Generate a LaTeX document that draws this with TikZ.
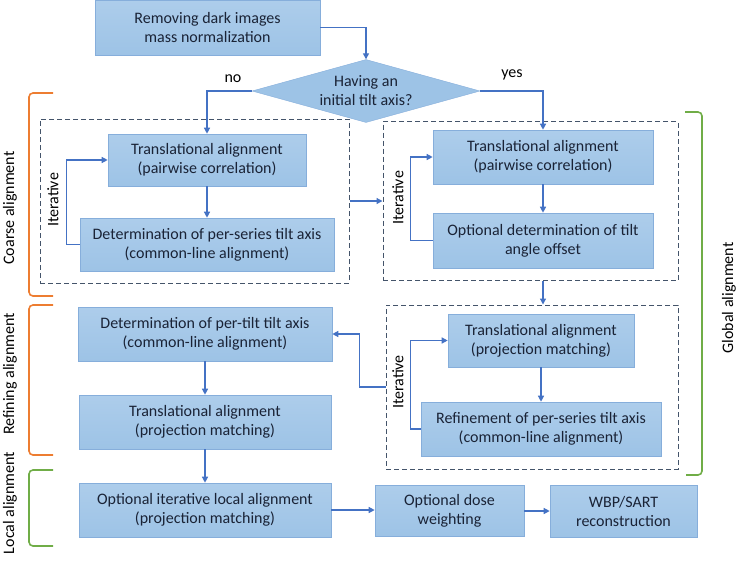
\documentclass[tikz,border=0pt]{standalone}
\usepackage{fontspec}
\setmainfont{Carlito}
\usepackage{tikz}
\usetikzlibrary{shapes.geometric, arrows.meta}
\usetikzlibrary{calc,positioning}
\definecolor{boxfill}{HTML}{9DC3E6}
\definecolor{boxtop}{HTML}{ADCDEB}
\definecolor{boxline}{HTML}{86AEDB}
\definecolor{arrblue}{HTML}{4472C4}
\definecolor{framegray}{HTML}{44546A}
\definecolor{txtdark}{HTML}{1A2336}
\definecolor{braceorange}{HTML}{ED7D31}
\definecolor{bracegreen}{HTML}{70AD47}

\begin{document}
\begin{tikzpicture}[x=1pt,y=1pt,yscale=-1,xscale=1]
  \tikzstyle{arrow} = [line width=1.3pt,arrblue,-{Triangle[length=6pt,width=6pt]}]
  \tikzstyle{stage} = [draw=boxline,line width=0.6pt,top color=boxtop,bottom color=boxfill,text=txtdark,align=center,inner sep=2pt,font=\fontsize{16}{19}\selectfont]
  \tikzstyle{frame} = [draw=framegray,dashed,line width=1pt,dash pattern=on 5pt off 3pt]
  \tikzstyle{brace} = [line width=1.6pt,rounded corners=4pt]
  \tikzstyle{side} = [rotate=90,text=black,font=\fontsize{16}{19}\selectfont]
  \useasboundingbox (0,0) rectangle (738,560);
  %Draw the dashed frames
  \node[frame,minimum width=309,minimum height=164] (fL) at (194.5,201) {};
  \node[frame,minimum width=295,minimum height=159] (fR) at (530.5,201) {};
  \node[frame,minimum width=292,minimum height=164] (fB) at (532,387) {};
  %Draw the steps
  \node[stage,minimum width=225,minimum height=55] (rem) at (207.5,27.5) {Removing dark images\\mass normalization};
  \node[diamond,draw=boxline,fill=boxfill,minimum width=228,minimum height=63,inner sep=0pt] (dia) at (366,91) {};
  \node[text=txtdark,align=center,font=\fontsize{16}{19}\selectfont] (diat) at (dia) {Having an\\initial tilt axis?};
  \node[stage,minimum width=198,minimum height=52] (ta1) at (207,160) {Translational alignment\\(pairwise correlation)};
  \node[stage,minimum width=254,minimum height=53] (dps) at (207,244.5) {Determination of per-series tilt axis\\(common-line alignment)};
  \node[stage,minimum width=220,minimum height=54] (ta2) at (543,157) {Translational alignment\\(pairwise correlation)};
  \node[stage,minimum width=220,minimum height=55] (odt) at (543,240.5) {Optional determination of tilt\\angle offset};
  \node[stage,minimum width=186,minimum height=53] (ta3) at (541,340.5) {Translational alignment\\(projection matching)};
  \node[stage,minimum width=240,minimum height=54] (rps) at (541,429) {Refinement of per-series tilt axis\\(common-line alignment)};
  \node[stage,minimum width=254,minimum height=54] (dpt) at (205,334) {Determination of per-tilt tilt axis\\(common-line alignment)};
  \node[stage,minimum width=252,minimum height=54] (ta4) at (205,422) {Translational alignment\\(projection matching)};
  \node[stage,minimum width=252,minimum height=54] (loc) at (205,510) {Optional iterative local alignment\\(projection matching)};
  \node[stage,minimum width=149,minimum height=51] (dose) at (449.5,511) {Optional dose\\weighting};
  \node[stage,minimum width=147,minimum height=52] (wbp) at (623.5,511) {WBP/SART\\reconstruction};
  %Draw the arrows
  \draw[arrow] (rem.east) -| (dia.north);
  \draw[arrow] (dia.west) -| (ta1.north);
  \draw[arrow] (dia.east) -| (ta2.north);
  \draw[arrow] (ta1) -- (dps);
  \draw[arrow] (ta2) -- (odt);
  \draw[arrow] (ta3) -- (rps);
  \draw[arrow] (dpt) -- (ta4);
  \draw[arrow] (ta4) -- (loc);
  \draw[arrow] (loc.east) -- (loc.east -| dose.west);
  \draw[arrow] (dose) -- (wbp);
  \draw[arrow] (fL.east) -- (fR.west);
  \draw[arrow] (odt.south |- fR.south) -- (odt.south |- fB.north);
  \draw[arrow] (fB.west) -- ++(-26,0) |- (dpt.east);
  %Draw the iteration loops
  \draw[arrow] (dps.west) -- ++(-13,0) |- (ta1.west);
  \draw[arrow] (odt.west) -- ++(-22,0) |- (ta2.west);
  \draw[arrow] (rps.west) -- ++(-10,0) |- (ta3.west);
  % Label the loops
  \node[side] (itL) at (53,200) {Iterative};
  \node[side] (itR) at (398,198) {Iterative};
  \node[side] (itB) at (398,382) {Iterative};
  \node[text=black,font=\fontsize{16}{19}\selectfont] (no) at (233,79) {no};
  \node[text=black,font=\fontsize{16}{19}\selectfont] (yes) at (512,75) {yes};
  %Draw the brackets
  \draw[brace,braceorange] (53,93) -- (29,93) -- (29,296) -- (53,296);
  \draw[brace,braceorange] (53,305) -- (29,305) -- (29,455) -- (53,455);
  \draw[brace,bracegreen] (53,470) -- (29,470) -- (29,546) -- (53,546);
  \draw[brace,bracegreen] (685,112) -- (702,112) -- (702,475) -- (686,475);
  % Label the brackets
  \node[side] (coarse) at (10,208) {Coarse alignment};
  \node[side] (refine) at (10,374) {Refining alignment};
  \node[side] (local) at (10,503) {Local alignment};
  \node[side] (global) at (729,298) {Global alignment};
\end{tikzpicture}
\end{document}
